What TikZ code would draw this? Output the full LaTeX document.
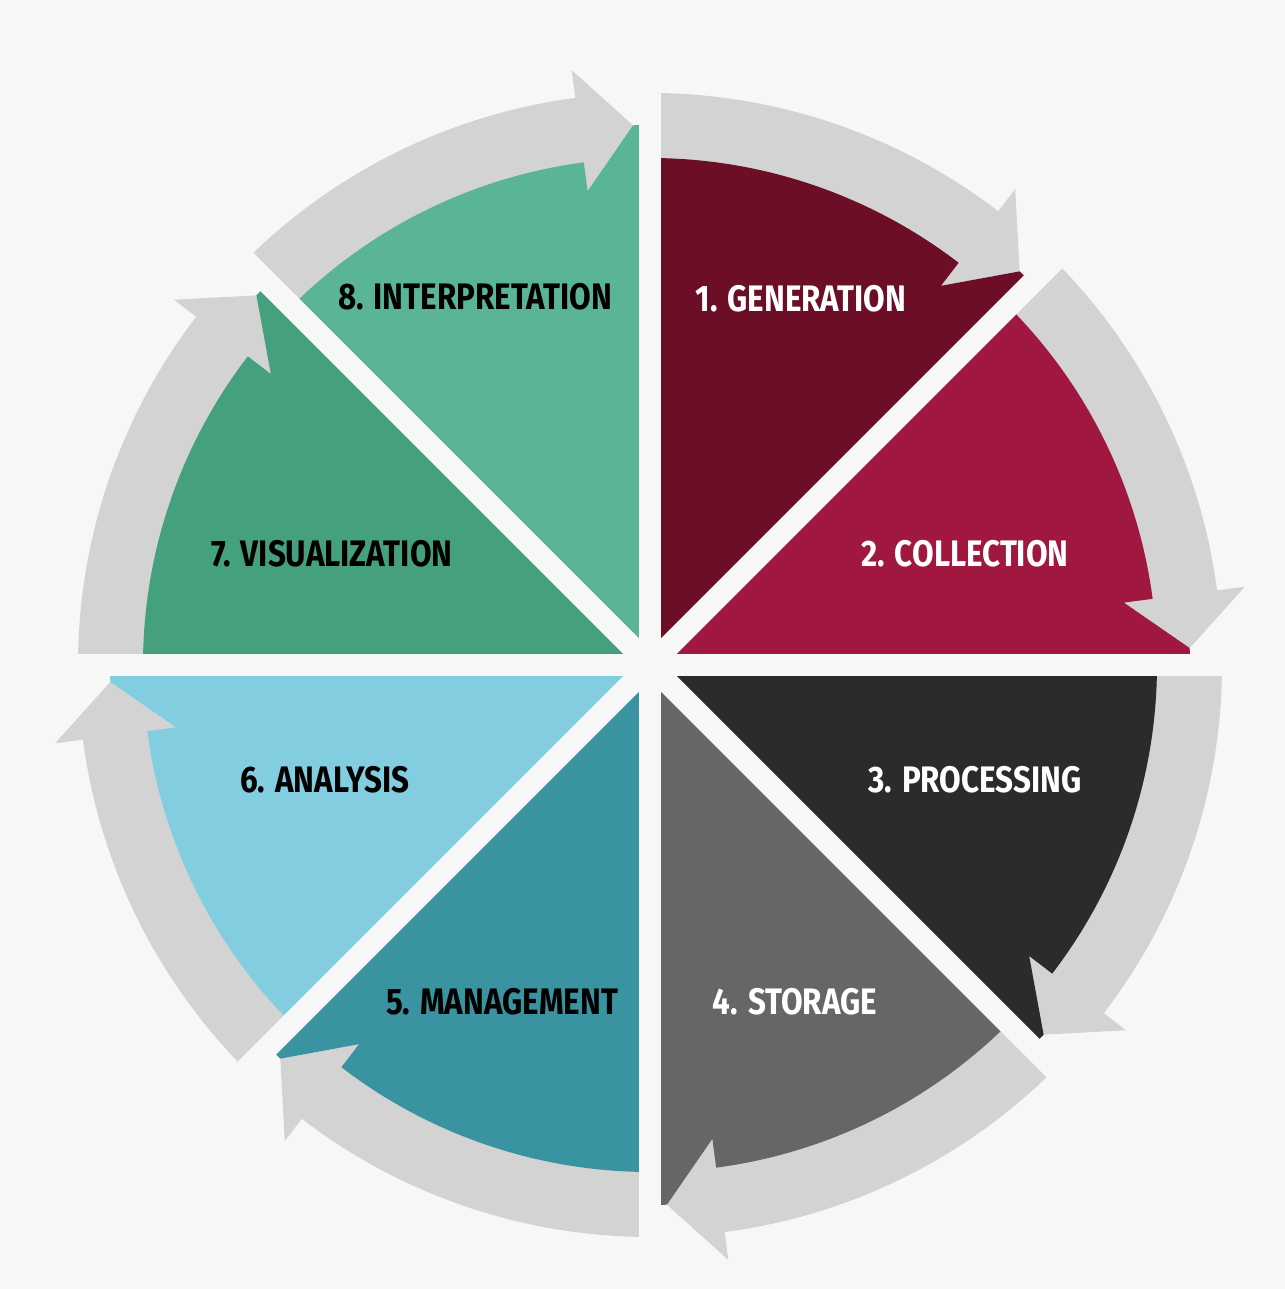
\documentclass[tikz,border=0pt]{standalone}
\usepackage{fontspec}
\newfontfamily\stagefont[FakeStretch=0.85]{Fira Sans}
\usepackage{xcolor}

\definecolor{bgcol}{HTML}{F7F7F7}
\definecolor{ringgray}{HTML}{D3D3D3}
\definecolor{gencol}{HTML}{6B0E26}
\definecolor{colcol}{HTML}{A0173F}
\definecolor{proccol}{HTML}{2B2B2B}
\definecolor{storcol}{HTML}{666666}
\definecolor{mgmtcol}{HTML}{3A93A0}
\definecolor{anacol}{HTML}{82CDE0}
\definecolor{viscol}{HTML}{45A07E}
\definecolor{interpcol}{HTML}{5AB596}

\begin{document}
\begin{tikzpicture}[
			x=0.02cm, y=0.02cm,
			ring/.style={fill=ringgray, draw=none},
			gap/.style={draw=bgcol, line width=0.44cm},
			stage/.style={font=\stagefont\bfseries\fontsize{21}{24}\selectfont, inner sep=0pt}
		]

		% Background
		\fill[bgcol] (-650,-624) rectangle (635,665);
		\useasboundingbox (-650,-624) rectangle (635,665);

		% Outer gray arrows
		\path[ring] (90:505) -- (90:572) arc[start angle=90, end angle=52.5, radius=572]
		-- (52.5:600) -- (46.8:540) -- (52.5:478) -- cycle;
		\path[ring] (45:505) -- (45:572) arc[start angle=45, end angle=7.5, radius=572]
		-- (7.5:600) -- (1.8:540) -- (7.5:478) -- cycle;
		\path[ring] (0:505) -- (0:572) arc[start angle=0, end angle=-37.5, radius=572]
		-- (-37.5:600) -- (-43.2:540) -- (-37.5:478) -- cycle;
		\path[ring] (-45:505) -- (-45:572) arc[start angle=-45, end angle=-82.5, radius=572]
		-- (-82.5:600) -- (-88.2:540) -- (-82.5:478) -- cycle;
		\path[ring] (-90:505) -- (-90:572) arc[start angle=-90, end angle=-127.5, radius=572]
		-- (-127.5:600) -- (-133.2:540) -- (-127.5:478) -- cycle;
		\path[ring] (-135:505) -- (-135:572) arc[start angle=-135, end angle=-172.5, radius=572]
		-- (-172.5:600) -- (-178.2:540) -- (-172.5:478) -- cycle;
		\path[ring] (180:505) -- (180:572) arc[start angle=180, end angle=142.5, radius=572]
		-- (142.5:600) -- (136.8:540) -- (142.5:478) -- cycle;
		\path[ring] (135:505) -- (135:572) arc[start angle=135, end angle=97.5, radius=572]
		-- (97.5:600) -- (91.8:540) -- (97.5:478) -- cycle;

		% Wedges
		\fill[gencol] (0,0) -- (90:507) arc[start angle=90, end angle=52.5, radius=507]
		-- (52.5:478) -- (46.8:540) -- (45:540) -- cycle;
		\fill[colcol] (0,0) -- (45:507) arc[start angle=45, end angle=7.5, radius=507]
		-- (7.5:478) -- (1.8:540) -- (0:540) -- cycle;
		\fill[proccol] (0,0) -- (0:507) arc[start angle=0, end angle=-37.5, radius=507]
		-- (-37.5:478) -- (-43.2:540) -- (-45:540) -- cycle;
		\fill[storcol] (0,0) -- (-45:507) arc[start angle=-45, end angle=-82.5, radius=507]
		-- (-82.5:478) -- (-88.2:540) -- (-90:540) -- cycle;
		\fill[mgmtcol] (0,0) -- (-90:507) arc[start angle=-90, end angle=-127.5, radius=507]
		-- (-127.5:478) -- (-133.2:540) -- (-135:540) -- cycle;
		\fill[anacol] (0,0) -- (-135:507) arc[start angle=-135, end angle=-172.5, radius=507]
		-- (-172.5:478) -- (-178.2:540) -- (-180:540) -- cycle;
		\fill[viscol] (0,0) -- (180:507) arc[start angle=180, end angle=142.5, radius=507]
		-- (142.5:478) -- (136.8:540) -- (135:540) -- cycle;
		\fill[interpcol] (0,0) -- (135:507) arc[start angle=135, end angle=97.5, radius=507]
		-- (97.5:478) -- (91.8:540) -- (90:540) -- cycle;

		% Gaps between the wedges
		\draw[gap] (0:630) -- (180:630);
		\draw[gap] (45:630) -- (225:630);
		\draw[gap] (90:630) -- (270:630);
		\draw[gap] (135:630) -- (315:630);

		% Labels
		\node[stage, text=white] (gen) at (151,366) {1. GENERATION};
		\node[stage, text=white] (col) at (315,111) {2. COLLECTION};
		\node[stage, text=white] (proc) at (325,-115) {3. PROCESSING};
		\node[stage, text=white] (stor) at (145,-337) {4. STORAGE};
		\node[stage, text=black] (mgmt) at (-148,-337) {5. MANAGEMENT};
		\node[stage, text=black] (ana) at (-325,-115) {6. ANALYSIS};
		\node[stage, text=black] (vis) at (-318,111) {7. VISUALIZATION};
		\node[stage, text=black] (interp) at (-175,368) {8. INTERPRETATION};

	\end{tikzpicture}
\end{document}
